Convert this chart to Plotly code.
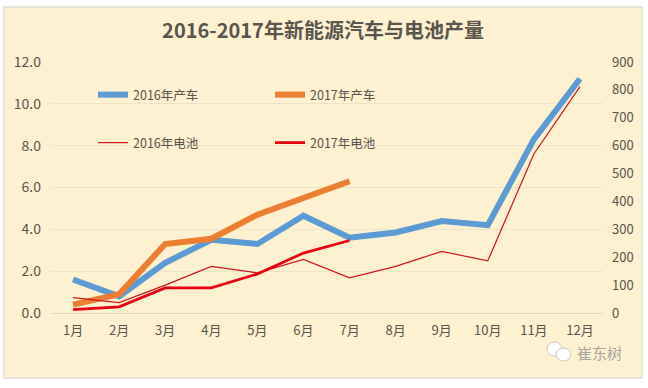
import plotly.graph_objects as go

months = ["1月", "2月", "3月", "4月", "5月", "6月", "7月", "8月", "9月", "10月", "11月", "12月"]
car_2016 = [1.6, 0.8, 2.4, 3.5, 3.3, 4.65, 3.6, 3.85, 4.4, 4.2, 8.3, 11.2]
car_2017 = [0.4, 0.9, 3.3, 3.55, 4.7, 5.5, 6.3]
bat_2016 = [55, 37, 100, 167, 144, 192, 126, 167, 221, 187, 570, 812]
bat_2017 = [12, 22, 90, 90, 140, 215, 260]
left_ticks = [0, 2, 4, 6, 8, 10, 12]
right_ticks = [0, 100, 200, 300, 400, 500, 600, 700, 800, 900]

W, H = 648, 388
ML, MR, MT, MB = 50, 45, 62, 75
FONT = "Noto Sans CJK SC"
TXT = "#5a554b"
PW, PH = W - ML - MR, H - MT - MB


def px(x):
    return (x - ML) / PW


def py(y):
    return 1 - (y - MT) / PH


fig = go.Figure()
fig.add_trace(go.Scatter(x=months, y=car_2016, name="2016年产车", mode="lines", legend="legend",
                         line=dict(color="#5b9bd5", width=6)))
fig.add_trace(go.Scatter(x=months[:len(car_2017)], y=car_2017, name="2017年产车", mode="lines", legend="legend",
                         line=dict(color="#ed7d31", width=6)))
fig.add_trace(go.Scatter(x=months, y=bat_2016, name="2016年电池", mode="lines", yaxis="y2", legend="legend2",
                         line=dict(color="#d01420", width=1.2)))
fig.add_trace(go.Scatter(x=months[:len(bat_2017)], y=bat_2017, name="2017年电池", mode="lines", yaxis="y2", legend="legend2",
                         line=dict(color="#e8000f", width=2.8)))

shapes = [
    dict(type="rect", xref="paper", yref="paper", layer="below",
         x0=px(4), x1=px(642), y0=py(378), y1=py(7),
         fillcolor="#fdf1cf", line=dict(color="#e8e2d8", width=2)),
    dict(type="circle", xref="paper", yref="paper", layer="above",
         x0=px(547), x1=px(562), y0=py(356), y1=py(342),
         fillcolor="#ffffff", line=dict(color="#c9c8c0", width=1)),
    dict(type="circle", xref="paper", yref="paper", layer="above",
         x0=px(556), x1=px(571), y0=py(361), y1=py(348),
         fillcolor="#ffffff", line=dict(color="#c9c8c0", width=1)),
]

legend_common = dict(orientation="h", entrywidth=132, entrywidthmode="pixels", itemwidth=30,
                     bgcolor="rgba(0,0,0,0)", font=dict(family=FONT, size=12.5, color=TXT),
                     xanchor="left", yanchor="middle", x=px(93), itemclick=False)

fig.update_layout(
    width=W, height=H, margin=dict(l=ML, r=MR, t=MT, b=MB),
    paper_bgcolor="#ffffff", plot_bgcolor="rgba(0,0,0,0)",
    font=dict(family=FONT, color=TXT, size=12),
    title=dict(text="<b>2016-2017年新能源汽车与电池产量</b>", x=323 / W, xanchor="center", y=1 - 31 / H, yanchor="middle",
               font=dict(family=FONT, size=20, color="#5a554c")),
    xaxis=dict(type="category", categoryorder="array", categoryarray=months, range=[-0.5, 11.5],
               showgrid=False, showline=False, ticks="", tickfont=dict(size=13, color=TXT), ticklabelstandoff=8),
    yaxis=dict(range=[0, 12], tickvals=left_ticks, ticktext=[f"{v:.1f}" for v in left_ticks],
               gridcolor="#eee4c8", gridwidth=1, zeroline=True, zerolinecolor="#e3dac2", zerolinewidth=1,
               showline=False, ticks="", tickfont=dict(size=14, color=TXT), ticklabelstandoff=8),
    yaxis2=dict(range=[0, 900], overlaying="y", side="right", tickvals=right_ticks, showgrid=False,
                zeroline=False, showline=False, ticks="", tickfont=dict(size=13, color=TXT), ticklabelstandoff=8),
    legend=dict(y=py(95), **legend_common),
    legend2=dict(y=py(143), **legend_common),
    shapes=shapes,
    annotations=[dict(text="崔东树", xref="paper", yref="paper", x=px(599), y=py(352), xanchor="center", yanchor="middle",
                      showarrow=False, font=dict(family=FONT, size=15, color="#a8a69c"))],
)

fig.write_html("out.html", config=dict(displayModeBar=False), post_script="document.body.style.margin='0';")
